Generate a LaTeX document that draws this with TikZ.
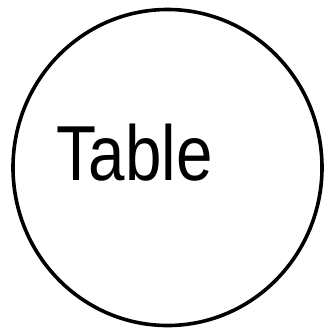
\documentclass[tikz,border=0pt]{standalone}
\usepackage{fontspec}
\setmainfont{Liberation Sans}
\usepackage{tikz}
\usetikzlibrary{shapes.geometric}

\begin{document}
\begin{tikzpicture}[x=1pt,y=-1pt,
    rim/.style={draw, ellipse, line width=3.6pt, minimum width=309pt, minimum height=316pt, inner sep=0pt},
    word/.style={font=\fontsize{78}{80}\selectfont, inner sep=0pt, xscale=0.84},
  ]
  \useasboundingbox (0,0) rectangle (330,332);

  % table outline
  \node[rim] (table) at (167.5,167.5) {};

  % label
  \node[word, anchor=base west] (name) at (56,180) {Table};
\end{tikzpicture}
\end{document}
